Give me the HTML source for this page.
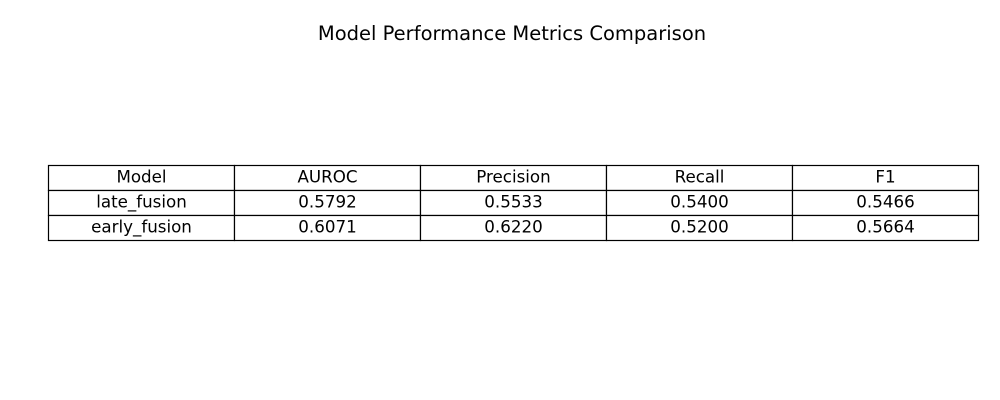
<!DOCTYPE html>
<html>
<head>
<meta charset="utf-8">
<style>
  html,body{margin:0;padding:0;background:#fff;}
  svg{display:block;}
  text{font-family:"DejaVu Sans","Liberation Sans",sans-serif;fill:#000;}
</style>
</head>
<body>
<svg id="chart" width="1000" height="400" viewBox="0 0 1000 400">
  <text x="512" y="40" text-anchor="middle" font-size="19.5">Model Performance Metrics Comparison</text>
  <g id="table"></g>
</svg>
<script>
const columns = ["Model", "AUROC", "Precision", "Recall", "F1"];
const models = ["late_fusion", "early_fusion"];
const auroc = ["0.5792", "0.6071"];
const precision = ["0.5533", "0.6220"];
const recall = ["0.5400", "0.5200"];
const f1 = ["0.5466", "0.5664"];

const NS = "http://www.w3.org/2000/svg";
const g = document.getElementById("table");
const x0 = 48.5, y0 = 165.5, colW = 186, rowH = 25;
const rows = [columns];
for (let i = 0; i < models.length; i++) rows.push([models[i], auroc[i], precision[i], recall[i], f1[i]]);
rows.forEach((row, r) => {
  const rg = document.createElementNS(NS, "g");
  
  
  g.appendChild(rg);
  row.forEach((val, c) => {
    const rect = document.createElementNS(NS, "rect");
    rect.setAttribute("x", x0 + c * colW);
    rect.setAttribute("y", y0 + r * rowH);
    rect.setAttribute("width", colW);
    rect.setAttribute("height", rowH);
    rect.setAttribute("fill", "#fff");
    rect.setAttribute("stroke", "#000");
    rect.setAttribute("stroke-width", "1.2");
    
    
    rg.appendChild(rect);
    const t = document.createElementNS(NS, "text");
    t.setAttribute("x", x0 + c * colW + colW / 2);
    t.setAttribute("y", y0 + r * rowH + 17);
    t.setAttribute("text-anchor", "middle");
    t.setAttribute("font-size", "16.7");
    t.textContent = val;
    
    
    rg.appendChild(t);
  });
});
</script>
</body>
</html>
